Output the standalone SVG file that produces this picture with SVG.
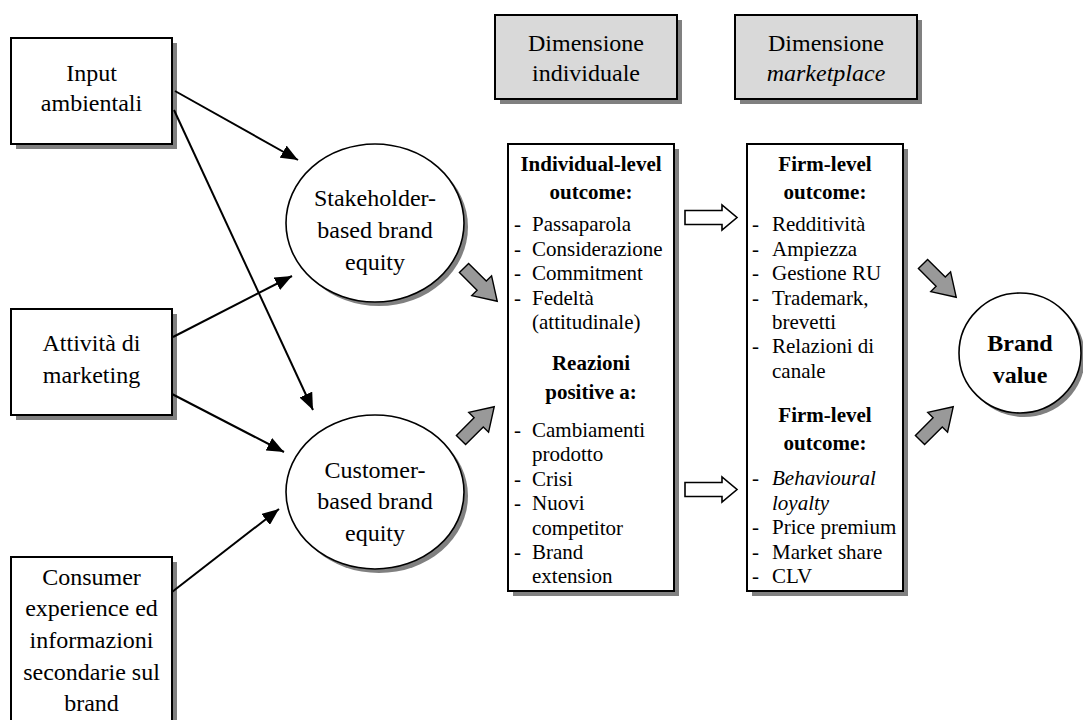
<svg xmlns="http://www.w3.org/2000/svg" width="1083" height="720" viewBox="0 0 1083 720" font-family="'Liberation Serif', Tinos, 'Times New Roman', Times, serif">
  <style>
    text { font-family: 'Liberation Serif', Tinos, 'Times New Roman', Times, serif; fill: #000; }
    .big { font-size: 24px; }
    .mid { font-size: 21px; }
    .c { text-anchor: middle; }
    .b { font-weight: bold; }
    .i { font-style: italic; }
    .box { fill: #fff; stroke: #000; stroke-width: 2; }
    .gbox { fill: #d9d9d9; stroke: #000; stroke-width: 2; }
    .shadow { fill: #808080; stroke: none; }
    .oval { fill: #fff; stroke: #000; stroke-width: 1.6; }
    .link { stroke: #000; stroke-width: 2; fill: none; marker-end: url(#head); }
    .garrow { fill: #999; stroke: #000; stroke-width: 1.4; stroke-linejoin: miter; }
    .warrow { fill: #fff; stroke: #000; stroke-width: 1.6; stroke-linejoin: miter; }
  </style>
  <defs>
    <marker id="head" markerUnits="userSpaceOnUse" markerWidth="18" markerHeight="14" refX="17" refY="7" orient="auto">
      <path d="M0,0 L17,7 L0,14 z" fill="#000"/>
    </marker>
    <!-- block arrow pointing along +x, tail at origin -->
    <path id="blk" d="M0,-6.5 L25,-6.5 L25,-14 L47,0 L25,14 L25,6.5 L0,6.5 z"/>
    <path id="wblk" d="M0,-7 L37,-7 L37,-12.5 L52,0 L37,12.5 L37,7 L0,7 z"/>
  </defs>

  <!-- column headers -->
  <g id="hdr-individuale">
    <rect class="shadow" x="500" y="20" width="182" height="84"/>
    <rect class="gbox" x="495" y="15" width="182" height="84"/>
    <text class="big c" x="586" y="51">Dimensione</text>
    <text class="big c" x="586" y="81">individuale</text>
  </g>
  <g id="hdr-marketplace">
    <rect class="shadow" x="740" y="20" width="182" height="84"/>
    <rect class="gbox" x="735" y="15" width="182" height="84"/>
    <text class="big c" x="826" y="51">Dimensione</text>
    <text class="big c i" x="826" y="81">marketplace</text>
  </g>

  <!-- sources -->
  <g id="input-ambientali">
    <rect class="shadow" x="16" y="43" width="161" height="106"/>
    <rect class="box" x="11" y="38" width="161" height="106"/>
    <text class="big c" x="91.5" y="81">Input</text>
    <text class="big c" x="91.5" y="111">ambientali</text>
  </g>
  <g id="attivita-marketing">
    <rect class="shadow" x="16" y="314" width="161" height="106"/>
    <rect class="box" x="11" y="309" width="161" height="106"/>
    <text class="big c" x="91.5" y="351">Attività di</text>
    <text class="big c" x="91.5" y="383">marketing</text>
  </g>
  <g id="consumer-experience">
    <rect class="shadow" x="16" y="562" width="161" height="170"/>
    <rect class="box" x="11" y="557" width="161" height="170"/>
    <text class="big c" x="91.5" y="585">Consumer</text>
    <text class="big c" x="91.5" y="616">experience ed</text>
    <text class="big c" x="91.5" y="648">informazioni</text>
    <text class="big c" x="91.5" y="680">secondarie sul</text>
    <text class="big c" x="91.5" y="711">brand</text>
  </g>

  <!-- equity ovals -->
  <g id="stakeholder-equity">
    <ellipse class="shadow" cx="379" cy="227" rx="89" ry="79"/>
    <ellipse class="oval" cx="375" cy="223" rx="89" ry="79"/>
    <text class="big c" x="375" y="206">Stakeholder-</text>
    <text class="big c" x="375" y="238">based brand</text>
    <text class="big c" x="375" y="270">equity</text>
  </g>
  <g id="customer-equity">
    <ellipse class="shadow" cx="379" cy="496" rx="89" ry="77"/>
    <ellipse class="oval" cx="375" cy="492" rx="89" ry="77"/>
    <text class="big c" x="375" y="478">Customer-</text>
    <text class="big c" x="375" y="509">based brand</text>
    <text class="big c" x="375" y="541">equity</text>
  </g>

  <!-- individual-level outcomes -->
  <g id="individual-outcome">
    <rect class="shadow" x="513" y="149" width="166" height="447"/>
    <rect class="box" x="508" y="144" width="166" height="447"/>
    <text class="mid c b" x="591" y="171">Individual-level</text>
    <text class="mid c b" x="591" y="199">outcome:</text>
    <text class="mid"><tspan x="514" y="231">-</tspan><tspan x="532" y="231">Passaparola</tspan></text>
    <text class="mid"><tspan x="514" y="255.5">-</tspan><tspan x="532" y="255.5">Considerazione</tspan></text>
    <text class="mid"><tspan x="514" y="280">-</tspan><tspan x="532" y="280">Commitment</tspan></text>
    <text class="mid"><tspan x="514" y="304.5">-</tspan><tspan x="532" y="304.5">Fedeltà</tspan></text>
    <text class="mid" x="532" y="329">(attitudinale)</text>
    <text class="mid c b" x="591" y="370">Reazioni</text>
    <text class="mid c b" x="591" y="399">positive a:</text>
    <text class="mid"><tspan x="514" y="437">-</tspan><tspan x="532" y="437">Cambiamenti</tspan></text>
    <text class="mid" x="532" y="461">prodotto</text>
    <text class="mid"><tspan x="514" y="485.5">-</tspan><tspan x="532" y="485.5">Crisi</tspan></text>
    <text class="mid"><tspan x="514" y="510">-</tspan><tspan x="532" y="510">Nuovi</tspan></text>
    <text class="mid" x="532" y="534.5">competitor</text>
    <text class="mid"><tspan x="514" y="559">-</tspan><tspan x="532" y="559">Brand</tspan></text>
    <text class="mid" x="532" y="583">extension</text>
  </g>

  <!-- firm-level outcomes -->
  <g id="firm-outcome">
    <rect class="shadow" x="752" y="149" width="156" height="447"/>
    <rect class="box" x="747" y="144" width="156" height="447"/>
    <text class="mid c b" x="825" y="171">Firm-level</text>
    <text class="mid c b" x="825" y="199">outcome:</text>
    <text class="mid"><tspan x="752" y="231">-</tspan><tspan x="772" y="231">Redditività</tspan></text>
    <text class="mid"><tspan x="752" y="255.5">-</tspan><tspan x="772" y="255.5">Ampiezza</tspan></text>
    <text class="mid"><tspan x="752" y="280">-</tspan><tspan x="772" y="280">Gestione RU</tspan></text>
    <text class="mid"><tspan x="752" y="304.5">-</tspan><tspan x="772" y="304.5">Trademark,</tspan></text>
    <text class="mid" x="772" y="329">brevetti</text>
    <text class="mid"><tspan x="752" y="353">-</tspan><tspan x="772" y="353">Relazioni di</tspan></text>
    <text class="mid" x="772" y="377.5">canale</text>
    <text class="mid c b" x="825" y="422">Firm-level</text>
    <text class="mid c b" x="825" y="450">outcome:</text>
    <text class="mid"><tspan x="752" y="485">-</tspan><tspan class="i" x="772" y="485">Behavioural</tspan></text>
    <text class="mid i" x="772" y="509.5">loyalty</text>
    <text class="mid"><tspan x="752" y="534">-</tspan><tspan x="772" y="534">Price premium</tspan></text>
    <text class="mid"><tspan x="752" y="558.5">-</tspan><tspan x="772" y="558.5">Market share</tspan></text>
    <text class="mid"><tspan x="752" y="583">-</tspan><tspan x="772" y="583">CLV</tspan></text>
  </g>

  <!-- final outcome -->
  <g id="brand-value">
    <ellipse class="shadow" cx="1024" cy="357" rx="61" ry="60"/>
    <ellipse class="oval" cx="1020" cy="353" rx="61" ry="60"/>
    <text class="big c b" x="1020" y="351">Brand</text>
    <text class="big c b" x="1020" y="383">value</text>
  </g>

  <!-- connectors -->
  <g id="connectors">
    <line class="link" x1="175" y1="91" x2="298" y2="160"/>
    <line class="link" x1="174" y1="110" x2="313" y2="410"/>
    <line class="link" x1="173" y1="337" x2="292" y2="276"/>
    <line class="link" x1="172" y1="394" x2="284" y2="452"/>
    <line class="link" x1="172" y1="592" x2="279" y2="509"/>

    <use href="#blk" class="garrow" transform="translate(464,268) rotate(45)"/>
    <use href="#blk" class="garrow" transform="translate(461,440) rotate(-45)"/>
    <use href="#blk" class="garrow" transform="translate(923,264) rotate(45)"/>
    <use href="#blk" class="garrow" transform="translate(920,440) rotate(-45)"/>

    <use href="#wblk" class="warrow" transform="translate(685,217.5)"/>
    <use href="#wblk" class="warrow" transform="translate(685,489.5)"/>
  </g>
</svg>
